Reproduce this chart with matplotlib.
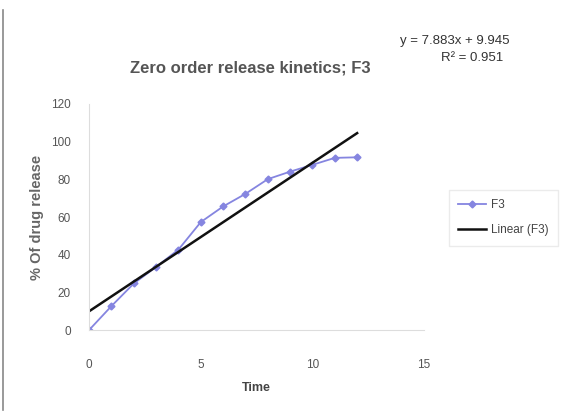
import matplotlib.pyplot as plt
import numpy as np

plt.rcParams['font.family'] = ['Liberation Sans', 'DejaVu Sans']

# F3 release data
time = [0, 1, 2, 3, 4, 5, 6, 7, 8, 9, 10, 11, 12]
release = [0, 12.7, 24.7, 33.5, 42.7, 57.3, 65.6, 72.3, 80.1, 84.1, 87.7, 91.4, 91.7]

# linear fit parameters shown on chart
slope = 7.883
intercept = 9.945
r2 = 0.951

fig = plt.figure(figsize=(5.64, 4.18), dpi=100)
ax = fig.add_axes([0.158, 0.2105, 0.594, 0.5407])

ax.plot(time, release, '-D', color='#8585e0', markersize=3.5, lw=1.3, label='F3')
fit_x = np.array([time[0], time[-1]])
ax.plot(fit_x, slope * fit_x + intercept, '-', color='#111111', lw=1.8,
        label='Linear (F3)')

ax.set_xlim(0, 15)
ax.set_ylim(0, 120)
ax.set_xticks([0, 5, 10, 15])
ax.set_yticks(range(0, 121, 20))
ax.tick_params(length=0, labelsize=8.5, colors='#555555')
ax.tick_params(axis='x', pad=21)
ax.tick_params(axis='y', pad=13)
for s in ['top', 'right']:
    ax.spines[s].set_visible(False)
for s in ['left', 'bottom']:
    ax.spines[s].set_color('#dddddd')

ax.set_xlabel('Time', fontsize=9, fontweight='bold', color='#444444', labelpad=8)
ax.set_ylabel('% Of drug release', fontsize=10.5, fontweight='bold', color='#666666', labelpad=5)

fig.text(0.443, 0.837, 'Zero order release kinetics; F3', fontsize=12, fontweight='bold',
         color='#555555', ha='center', va='center')
fig.text(0.807, 0.902, f'y = {slope}x + {intercept}', fontsize=9.5, color='#333333',
         ha='center', va='center')
fig.text(0.837, 0.862, f'R² = {r2}', fontsize=9.5, color='#333333',
         ha='center', va='center')

leg = fig.legend(loc='upper left', bbox_to_anchor=(0.785, 0.56), fontsize=8.5,
                 frameon=True, fancybox=False, edgecolor='#e6e6e6',
                 handlelength=2.4, handletextpad=0.4, borderpad=0.8, labelspacing=1.1)
for t in leg.get_texts():
    t.set_color('#444444')

# vertical frame line at left edge
fig.add_artist(plt.Line2D([0.006, 0.006], [0.02, 0.975], color='#888888', lw=1.2))

fig.savefig('out.png', dpi=100)
